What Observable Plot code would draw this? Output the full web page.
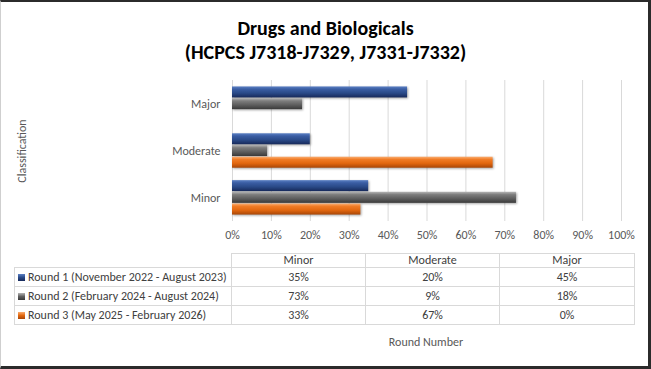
<!DOCTYPE html>
<html>
<head>
<meta charset="utf-8">
<script src="https://cdn.jsdelivr.net/npm/d3@7"></script>
<script src="https://cdn.jsdelivr.net/npm/@observablehq/plot@0.6"></script>
<style>
  html, body { margin: 0; padding: 0; background: #fff; }
  #wrap { position: relative; width: 651px; height: 369px; overflow: hidden; font-family: Carlito, Lato, "Open Sans", sans-serif; background: #fff; }
  #frame { position: absolute; left: 0; top: 0; width: 651px; height: 369px; box-sizing: border-box;
    border-top: 2px solid #2b2b2b; border-right: 3px solid #2b2b2b; border-bottom: 3px solid #2b2b2b; border-left: 1px solid #cfcfcf; pointer-events: none; z-index: 10; }
  #title { position: absolute; left: 0; top: 16px; width: 651px; text-align: center; font-weight: bold; font-size: 20px; line-height: 24px; color: #000; }
  #chart { position: absolute; left: 0; top: 0; }
  #ylabel { position: absolute; left: 22px; top: 151px; transform: translate(-50%, -50%) rotate(-90deg); font-size: 12px; color: #595959; white-space: nowrap; }
  #xlabel { position: absolute; left: 426px; top: 342px; transform: translate(-50%, -50%); font-size: 12px; color: #595959; white-space: nowrap; }
  #tbl { position: absolute; left: 14px; top: 253px; border-collapse: collapse; table-layout: fixed; font-size: 12px; color: #404040; }
  #tbl td { border: 1px solid #d9d9d9; padding: 0; text-align: center; white-space: nowrap; overflow: hidden; line-height: 13px; }
  #tbl td.leg { text-align: left; padding-left: 3px; }
  #tbl td.blank { border-top: none; border-left: none; }
  #tbl tr.hdr td { height: 13px; }
  #tbl tr.row td { height: 18px; }
  .key { display: inline-block; width: 7px; height: 7px; margin-right: 3px; vertical-align: 0px; }
</style>
</head>
<body>
<div id="wrap">
  <div id="title">Drugs and Biologicals<br>(HCPCS J7318-J7329, J7331-J7332)</div>
  <div id="chart"></div>
  <div id="ylabel">Classification</div>
  <div id="xlabel">Round Number</div>
  <table id="tbl"></table>
  <div id="frame"></div>
</div>
<script>
// ---- data ----
const categories = ["Minor", "Moderate", "Major"];          // table column order
const plotOrder = ["Major", "Moderate", "Minor"];            // top to bottom in chart
const rounds = [
  "Round 1 (November 2022 - August 2023)",
  "Round 2 (February 2024 - August 2024)",
  "Round 3 (May 2025 - February 2026)"
];
const round1 = [0.35, 0.20, 0.45];   // Minor, Moderate, Major
const round2 = [0.73, 0.09, 0.18];
const round3 = [0.33, 0.67, 0.00];
const xTicks = [0, 0.1, 0.2, 0.3, 0.4, 0.5, 0.6, 0.7, 0.8, 0.9, 1.0];

const series = [round1, round2, round3];
const rows = [];
rounds.forEach((r, ri) => categories.forEach((c, ci) => rows.push({round: r, ri, category: c, value: series[ri][ci], key: c + "|" + ri})));

// y domain: groups of three rounds with a spacer between categories
const yDomain = [];
plotOrder.forEach((c, i) => {
  rounds.forEach((r, ri) => yDomain.push(c + "|" + ri));
  if (i < plotOrder.length - 1) yDomain.push("gap" + i);
});

const gradIds = ["gBlue", "gGray", "gOrange"];
const fmt = d3.format(".0%");

const plot = Plot.plot({
  width: 651,
  height: 250,
  marginTop: 80,
  marginBottom: 29,
  marginLeft: 232,
  marginRight: 30,
  style: {fontFamily: "Carlito, Lato, 'Open Sans', sans-serif", fontSize: "12px", color: "#595959", background: "transparent", overflow: "visible"},
  x: {domain: [0, 1], ticks: xTicks, tickFormat: fmt, tickSize: 0, tickPadding: 9, label: null},
  y: {domain: yDomain, paddingInner: 0.06, paddingOuter: 0.55, round: false, axis: null},
  color: {domain: rounds, range: gradIds.map(g => `url(#${g})`)},
  marks: [
    Plot.ruleX(xTicks, {stroke: "#d9d9d9", strokeWidth: 1}),
    Plot.barX(rows, {x: "value", y: "key", fill: "round"}),
    Plot.text(plotOrder, {x: 0, y: c => c + "|1", text: d => d, textAnchor: "end", dx: -12, fill: "#595959", fontSize: 12})
  ]
});

// gradient definitions for the bevelled bar look
const ns = "http://www.w3.org/2000/svg";
const defs = document.createElementNS(ns, "defs");
const gradStops = [
  [["0", "#5b80c4"], ["0.25", "#3a5da3"], ["0.6", "#2a4a88"], ["1", "#17295a"]],
  [["0", "#b4b4b4"], ["0.25", "#7d7d7d"], ["0.6", "#5f5f5f"], ["1", "#3a3a3a"]],
  [["0", "#fbad70"], ["0.25", "#f07c26"], ["0.6", "#e2670f"], ["1", "#a84607"]]
];
gradIds.forEach((id, i) => {
  const lg = document.createElementNS(ns, "linearGradient");
  lg.setAttribute("id", id);
  lg.setAttribute("x1", "0"); lg.setAttribute("y1", "0");
  lg.setAttribute("x2", "0"); lg.setAttribute("y2", "1");
  gradStops[i].forEach(([o, c]) => {
    const s = document.createElementNS(ns, "stop");
    s.setAttribute("offset", o); s.setAttribute("stop-color", c);
    lg.appendChild(s);
  });
  defs.appendChild(lg);
});
plot.insertBefore(defs, plot.firstChild);
plot.querySelectorAll("g[aria-label='bar'] rect").forEach(r => r.style.filter = "drop-shadow(1px 1px 1px rgba(0,0,0,0.35))");
plot.querySelectorAll("g[aria-label='x-axis tick label'] text, g[aria-label='x-axis'] text").forEach(t => t.setAttribute("fill", "#595959"));
document.getElementById("chart").appendChild(plot);

// ---- data table with legend keys ----
const tbl = document.getElementById("tbl");
const colW = [217, 134, 134, 135];
const cg = document.createElement("colgroup");
colW.forEach(w => { const c = document.createElement("col"); c.style.width = w + "px"; cg.appendChild(c); });
tbl.appendChild(cg);
const hdr = document.createElement("tr"); hdr.className = "hdr";
const b = document.createElement("td"); b.className = "blank"; hdr.appendChild(b);
categories.forEach(c => { const td = document.createElement("td"); td.textContent = c; hdr.appendChild(td); });
tbl.appendChild(hdr);
rounds.forEach((r, ri) => {
  const tr = document.createElement("tr"); tr.className = "row";
  const td0 = document.createElement("td"); td0.className = "leg";
  const k = document.createElement("span"); k.className = "key"; k.style.background = `linear-gradient(${gradStops[ri][0][1]}, ${gradStops[ri][2][1]}, ${gradStops[ri][3][1]})`;
  td0.appendChild(k); td0.appendChild(document.createTextNode(r));
  tr.appendChild(td0);
  series[ri].forEach(v => { const td = document.createElement("td"); td.textContent = fmt(v); tr.appendChild(td); });
  tbl.appendChild(tr);
});
</script>
</body>
</html>
